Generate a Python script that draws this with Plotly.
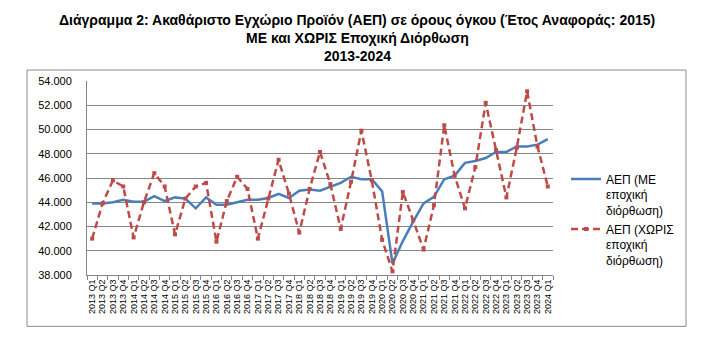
import plotly.graph_objects as go

years = list(range(2013, 2025))
quarters = ["Q1", "Q2", "Q3", "Q4"]
categories = [f"{y} {q}" for y in years for q in quarters][:45]

gdp_sa = [43900, 43900, 44000, 44200, 44050, 44050, 44500, 44100, 44400, 44300,
          43500, 44400, 43800, 43800, 44000, 44200, 44200, 44350, 44700, 44350,
          44950, 45050, 44950, 45300, 45600, 46100, 45900, 45900, 44900, 38950,
          40800, 42400, 43900, 44450, 45900, 46200, 47250, 47400, 47650, 48150,
          48150, 48600, 48600, 48750, 49200]

gdp_nsa = [41000, 43900, 45800, 45300, 41100, 44000, 46400, 45300, 41350, 44300,
           45300, 45600, 40750, 44100, 46100, 45100, 41000, 44300, 47500, 44700,
           41500, 45100, 48150, 45500, 41800, 45700, 49900, 45800, 40900, 38300,
           44850, 42500, 40100, 43750, 50350, 46200, 43500, 46900, 52200, 48300,
           44400, 48500, 53150, 48600, 45300]

name_sa = "ΑΕΠ (ΜΕ<br>εποχική<br>διόρθωση)"
name_nsa = "ΑΕΠ (ΧΩΡΙΣ<br>εποχική<br>διόρθωση)"
title_lines = [
    "Διάγραμμα 2: Ακαθάριστο Εγχώριο Προϊόν (ΑΕΠ) σε όρους όγκου (Έτος Αναφοράς: 2015)",
    "ΜΕ και ΧΩΡΙΣ Εποχική Διόρθωση",
    "2013-2024",
]

fig = go.Figure()
fig.add_trace(go.Scatter(
    x=categories, y=gdp_sa, name=name_sa, mode="lines",
    line=dict(color="#4A7EBB", width=2.5)))
fig.add_trace(go.Scatter(
    x=categories, y=gdp_nsa, name=name_nsa, mode="lines+markers",
    line=dict(color="#BE4B48", width=2.5, dash="7px,4px"),
    marker=dict(symbol="square", size=4, color="#BE4B48")))

# page body has an 8px default margin, so the figure is drawn 8px smaller
OFF = 8
W, H = 709 - OFF, 356 - OFF
L, T = 87 - OFF, 81 - OFF
R = W - (553 - OFF)
B = H - (275.5 - OFF)
pw, ph = W - L - R, H - T - B

def px(x):
    return (x - OFF - L) / pw

def py(y):
    return (H - B - (y - OFF)) / ph

fig.add_shape(type="rect", xref="paper", yref="paper",
              x0=px(27), x1=px(686), y0=py(327), y1=py(70),
              line=dict(color="#8c8c8c", width=1), layer="below")

for text, yc in zip(title_lines, [20, 38, 56]):
    fig.add_annotation(text=f"<b>{text}</b>", xref="paper", yref="paper",
                       x=px(357), y=py(yc), xanchor="center", yanchor="middle",
                       showarrow=False, font=dict(size=14, color="#000000"))

fig.update_layout(
    width=W, height=H,
    margin=dict(l=L, r=R, t=T, b=B, autoexpand=False),
    paper_bgcolor="white", plot_bgcolor="white",
    separators=",.",
    font=dict(family="Liberation Sans, Arial, sans-serif", color="#000000"),
    showlegend=True,
    legend=dict(x=px(566), y=py(165), xanchor="left", yanchor="top",
                valign="top", font=dict(size=12, color="#000000"),
                bgcolor="rgba(255,255,255,0)", tracegroupgap=4,
                itemwidth=30),
)
fig.update_xaxes(
    type="category", tickangle=-90, tickfont=dict(size=9, color="#000000"),
    tickmode="linear", dtick=1, tick0=0,
    showgrid=False, showline=True, linecolor="#868686", linewidth=1,
    ticks="outside", tickson="boundaries", ticklen=4, tickcolor="#868686",
    range=[-0.5, 44.5], fixedrange=True, automargin=False)
fig.update_yaxes(
    range=[38000, 54000], dtick=2000, tick0=38000, tickformat=",.0f",
    tickfont=dict(size=11, color="#000000"),
    showgrid=True, gridcolor="#868686", gridwidth=1,
    showline=True, linecolor="#868686", linewidth=1,
    ticks="", ticklabelstandoff=12, zeroline=False, automargin=False)

fig.write_html("out.html")
